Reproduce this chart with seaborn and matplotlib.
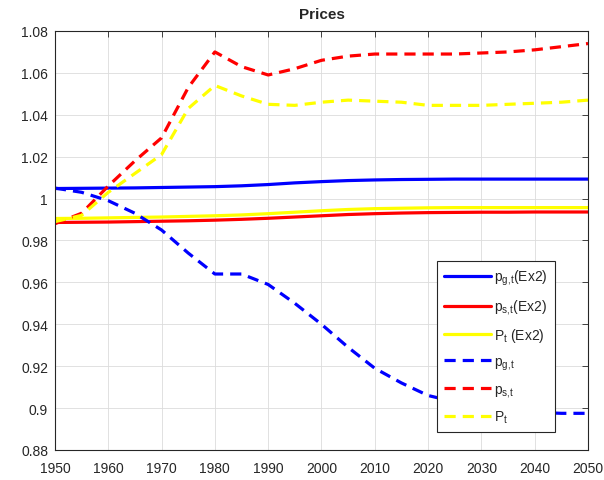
import numpy as np
import pandas as pd
import matplotlib
matplotlib.use('Agg')
import matplotlib.pyplot as plt
import seaborn as sns
from matplotlib.ticker import FuncFormatter

years = list(range(1950, 2051, 5))

# Ex2 (solid)
pg_ex2 = [1.0048, 1.0049, 1.0050, 1.0051, 1.0053, 1.0055, 1.0057, 1.0061, 1.0067, 1.0075, 1.0081,
          1.0086, 1.0089, 1.0091, 1.0092, 1.0093, 1.0093, 1.0093, 1.0093, 1.0093, 1.0093]
ps_ex2 = [0.9886, 0.9887, 0.9888, 0.9890, 0.9892, 0.9894, 0.9897, 0.9901, 0.9906, 0.9912, 0.9918,
          0.9924, 0.9928, 0.9931, 0.9933, 0.9934, 0.9935, 0.9935, 0.9936, 0.9936, 0.9936]
P_ex2 = [0.9905, 0.9906, 0.9908, 0.9910, 0.9912, 0.9915, 0.9918, 0.9922, 0.9928, 0.9935, 0.9942,
         0.9948, 0.9952, 0.9954, 0.9956, 0.9957, 0.9957, 0.9957, 0.9957, 0.9957, 0.9957]

# baseline (dashed)
pg = [1.005, 1.003, 0.999, 0.993, 0.985, 0.974, 0.964, 0.964, 0.959, 0.950, 0.940,
      0.929, 0.919, 0.912, 0.906, 0.903, 0.901, 0.899, 0.898, 0.8975, 0.8975]
ps = [0.988, 0.993, 1.006, 1.018, 1.029, 1.053, 1.070, 1.063, 1.059, 1.062, 1.066,
      1.068, 1.069, 1.069, 1.069, 1.069, 1.0695, 1.070, 1.071, 1.0725, 1.074]
P = [0.989, 0.992, 1.003, 1.012, 1.021, 1.043, 1.054, 1.049, 1.045, 1.0445, 1.046,
     1.047, 1.0465, 1.046, 1.0445, 1.0445, 1.0445, 1.045, 1.0455, 1.046, 1.047]

series = [
    (r'$\mathregular{p_{g,\!t}}$(Ex2)', pg_ex2, '#0000ff', '-'),
    (r'$\mathregular{p_{s,\!t}}$(Ex2)', ps_ex2, '#ff0000', '-'),
    (r'$\mathregular{P_t}$ (Ex2)', P_ex2, '#ffff00', '-'),
    (r'$\mathregular{p_{g,\!t}}$', pg, '#0000ff', '--'),
    (r'$\mathregular{p_{s,\!t}}$', ps, '#ff0000', '--'),
    (r'$\mathregular{P_t}$', P, '#ffff00', '--'),
]

sns.set_style('white')
plt.rcParams['font.family'] = ['Liberation Sans', 'DejaVu Sans']
plt.rcParams['mathtext.fontset'] = 'custom'
plt.rcParams['mathtext.rm'] = 'Liberation Sans'
plt.rcParams['mathtext.it'] = 'Liberation Sans'

fig = plt.figure(figsize=(6.04, 4.81), dpi=100)
ax = fig.add_axes([0.091, 0.0624, 0.8825, 0.8711])

for label, vals, color, ls in series:
    df = pd.DataFrame({'year': years, 'value': vals})
    sns.lineplot(data=df, x='year', y='value', ax=ax, color=color, linewidth=2.3, label=label)
    if ls == '--':
        ax.lines[-1].set_dashes((3.5, 2.2))

ax.set_xlim(1950, 2050)
ax.set_ylim(0.88, 1.08)
ax.set_xticks(range(1950, 2051, 10))
ax.set_yticks(np.arange(0.88, 1.0801, 0.02))
ax.yaxis.set_major_formatter(FuncFormatter(lambda v, p: '%g' % round(v, 2)))
ax.set_xlabel('')
ax.set_ylabel('')
ax.set_title('Prices', fontsize=11, fontweight='bold', pad=9)
ax.grid(True, color='#dcdcdc', linewidth=0.6)
ax.tick_params(direction='in', top=True, right=True, length=4, labelsize=10,
               colors='#262626', width=0.6)
ax.tick_params(axis='x', pad=8)
ax.tick_params(axis='y', pad=5)
for s in ax.spines.values():
    s.set_color('#262626')
    s.set_linewidth(0.8)

leg = ax.legend(loc='lower left', bbox_to_anchor=(0.717, 0.043), borderaxespad=0, fontsize=10,
                handlelength=3.4, labelspacing=0.72, borderpad=0.5, handletextpad=0.2,
                fancybox=False, framealpha=1, edgecolor='#262626')
leg.get_frame().set_linewidth(0.8)

fig.savefig('out.png', dpi=100)
